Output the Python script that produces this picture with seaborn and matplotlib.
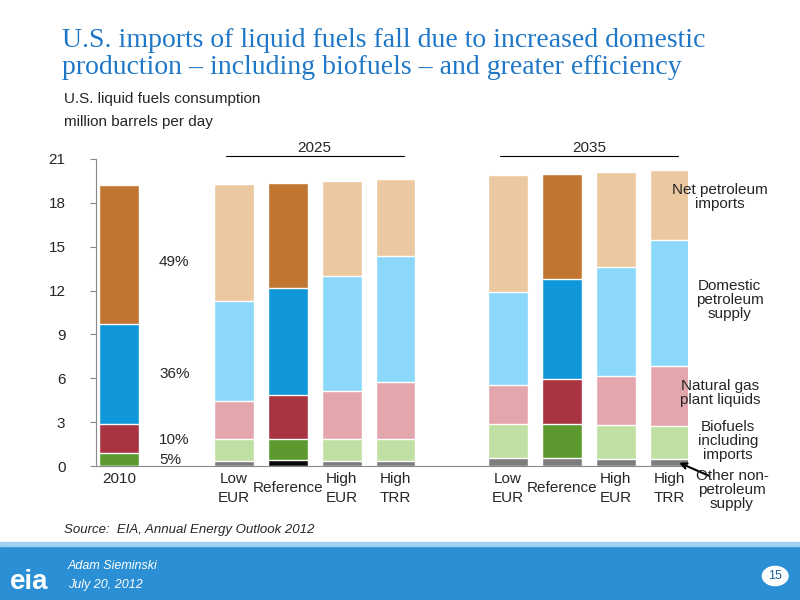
import matplotlib
matplotlib.use("Agg")
import matplotlib.pyplot as plt
import seaborn as sns
import numpy as np
import pandas as pd
from matplotlib.patches import Rectangle, Circle

sns.set_style("white")
plt.rcParams['font.family'] = ['Arial', 'Liberation Sans', 'DejaVu Sans']

bars = ["2010", "Low25", "Ref25", "HighEUR25", "HighTRR25", "Low35", "Ref35", "HighEUR35", "HighTRR35"]
xpos = [0, 2.13, 3.13, 4.13, 5.13, 7.22, 8.22, 9.22, 10.22]
is_ref = [True, False, True, False, False, False, True, False, False]
# cumulative tops of each layer (million b/d)
other = [0.0, 0.35, 0.4, 0.35, 0.35, 0.55, 0.55, 0.5, 0.5]
biofuels = [0.9, 1.85, 1.85, 1.85, 1.85, 2.9, 2.9, 2.8, 2.75]
ngpl = [2.9, 4.45, 4.85, 5.1, 5.75, 5.55, 5.95, 6.15, 6.85]
domestic = [9.7, 11.3, 12.2, 13.0, 14.35, 11.9, 12.8, 13.6, 15.45]
net_imports = [19.2, 19.3, 19.35, 19.5, 19.6, 19.9, 20.0, 20.1, 20.25]
tick_labels = ["2010", "Low\nEUR", "Reference", "High\nEUR", "High\nTRR", "Low\nEUR", "Reference", "High\nEUR", "High\nTRR"]

layers = [
    (net_imports, "#c07530", "#ecc8a0"),
    (domestic, "#0f97da", "#8cd8fb"),
    (ngpl, "#a83341", "#e4a6ad"),
    (biofuels, "#5c9a30", "#bfe0a2"),
    (other, "#0a0a0a", "#7d7d7d"),
]

fig = plt.figure(figsize=(8, 6), dpi=100)
ax = fig.add_axes([0.12, 0.2233, 0.74, 0.5117])
for vals, dark, light in layers:
    cols = [dark if r else light for r in is_ref]
    if vals is other:
        cols = ["#7d7d7d" if (r and i != 2) else c for i, (r, c) in enumerate(zip(is_ref, cols))]
    df = pd.DataFrame({"x": xpos, "y": vals, "b": bars})
    sns.barplot(data=df, x="x", y="y", hue="b", palette=dict(zip(bars, cols)),
                native_scale=True, dodge=False, legend=False, width=0.74,
                saturation=1, ax=ax)
ax.set_xlim(-0.43, 10.56)
ax.set_ylim(0, 21)
ax.set_yticks(range(0, 22, 3))
ax.tick_params(axis='y', labelsize=11, length=4, left=True, color="#888", pad=18)
ax.set_xticks(xpos)
ax.set_xticklabels(tick_labels, fontsize=11, linespacing=1.5)
for lbl in ax.get_xticklabels():
    if lbl.get_text() == "Reference":
        lbl.set_y(-0.03)
ax.tick_params(axis='x', length=0, pad=4)
ax.set_xlabel(""); ax.set_ylabel("")
for s in ["top", "right"]:
    ax.spines[s].set_visible(False)
ax.spines["left"].set_color("#888")
ax.spines["bottom"].set_color("#888")

for xc, t in [(3.63, "2025"), (8.72, "2035")]:
    ax.text(xc, 21.25, t, ha="center", va="bottom", fontsize=11)
    ax.plot([xc - 1.65, xc + 1.65], [21.2, 21.2], color="k", lw=0.8, clip_on=False)

for y, t in [(13.5, "49%"), (5.8, "36%"), (1.3, "10%"), (-0.1, "5%")]:
    ax.text(0.74, y, t, fontsize=11, ha="left", va="bottom")

fig.text(0.078, 0.91, "U.S. imports of liquid fuels fall due to increased domestic\nproduction \u2013 including biofuels \u2013 and greater efficiency",
         fontsize=20, color="#1f77c8", family=["Liberation Serif", "DejaVu Serif"], va="center", linespacing=1.15)
fig.text(0.08, 0.828, "U.S. liquid fuels consumption", fontsize=11)
fig.text(0.08, 0.79, "million barrels per day", fontsize=11)

right = [(0.9, 0.672, "Net petroleum\nimports"), (0.912, 0.5, "Domestic\npetroleum\nsupply"),
         (0.9, 0.345, "Natural gas\nplant liquids"), (0.91, 0.265, "Biofuels\nincluding\nimports"),
         (0.915, 0.183, "Other non-\npetroleum\nsupply")]
for xf, yf, t in right:
    fig.text(xf, yf, t, fontsize=11, ha="center", va="center", linespacing=1.0)
ax.annotate("", xy=(10.35, 0.3), xytext=(11.0, -0.75), arrowprops=dict(arrowstyle="->", color="k", lw=1.5),
            annotation_clip=False)

fig.text(0.08, 0.112, "Source:  EIA, Annual Energy Outlook 2012", fontsize=9.5, style="italic")

fig.patches.append(Rectangle((0, 0), 1, 0.09, transform=fig.transFigure, color="#2a8fd4", zorder=0))
fig.patches.append(Rectangle((0, 0.09), 1, 0.006, transform=fig.transFigure, color="#9fd0f0", zorder=0))
fig.text(0.012, 0.03, "eia", fontsize=20, color="white", weight="bold", va="center")
fig.text(0.085, 0.057, "Adam Sieminski", fontsize=9, color="white", style="italic", va="center")
fig.text(0.085, 0.025, "July 20, 2012", fontsize=9, color="white", style="italic", va="center")
fig.patches.append(Circle((0.969, 0.04), 0.016, transform=fig.transFigure, color="white", zorder=1))
fig.text(0.969, 0.04, "15", fontsize=9, color="#1f5fa0", ha="center", va="center", zorder=2)

fig.savefig("out.png", dpi=100)
